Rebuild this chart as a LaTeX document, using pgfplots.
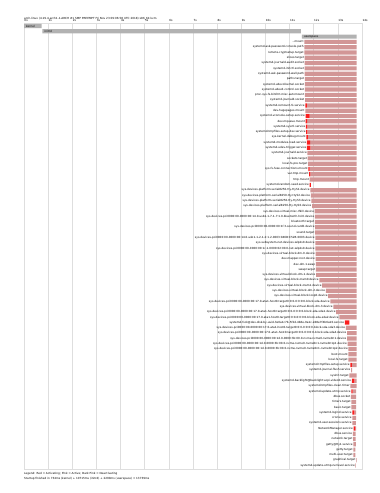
\documentclass[border=0pt]{standalone}
\usepackage{fontspec}
\setmainfont{DejaVu Sans}
\usepackage{pgfplots}
\usepackage{pgfplotstable}
\pgfplotsset{compat=1.18}
\newcommand\lf{\fontsize{2.8}{3.2}\selectfont}
\definecolor{actv}{RGB}{250,30,30}
\definecolor{pinkc}{RGB}{210,150,150}
\definecolor{grayc}{RGB}{178,178,178}
\definecolor{gridc}{RGB}{222,222,222}

\pgfplotstableread{
row start gray red pink label
-3 0 0.73 0 0 kernel
-2 0.76 10.71 0 0 initrd
-1 11.51 2.27 0 0 userspace
0 11.61 0 0 2.17 -.mount
1 11.61 0 0 2.17 systemd-ask-password-console.path
2 11.61 0 0 2.17 remote-cryptsetup.target
3 11.62 0 0 2.16 slices.target
4 11.62 0 0 2.16 systemd-journald-audit.socket
5 11.62 0 0 2.16 systemd-initctl.socket
6 11.62 0 0 2.16 systemd-ask-password-wall.path
7 11.63 0 0 2.15 paths.target
8 11.63 0 0 2.15 systemd-udevd-kernel.socket
9 11.63 0 0 2.15 systemd-udevd-control.socket
10 11.63 0 0 2.15 proc-sys-fs-binfmt-misc.automount
11 11.64 0 0 2.14 systemd-journald.socket
12 11.65 0 0.07 2.06 systemd-remount-fs.service
13 11.65 0 0 2.13 dev-hugepages.mount
14 11.66 0 0.17 1.95 systemd-vconsole-setup.service
15 11.67 0 0.06 2.05 dev-mqueue.mount
16 11.68 0 0.06 2.04 systemd-sysctl.service
17 11.69 0 0.05 2.04 systemd-tmpfiles-setup-dev.service
18 11.70 0 0.06 2.02 sys-kernel-debug.mount
19 11.72 0 0.13 1.93 systemd-modules-load.service
20 11.72 0 0.14 1.92 systemd-udev-trigger.service
21 11.74 0 0 2.04 systemd-journald.service
22 11.75 0 0 2.03 sockets.target
23 11.77 0 0 2.01 local-fs-pre.target
24 11.78 0 0.05 1.95 sys-fs-fuse-connections.mount
25 11.81 0 0.05 1.92 var-tmp.mount
26 11.83 0 0 1.95 tmp.mount
27 11.83 0 0.05 0 systemd-random-seed.service
28 11.86 0 0 1.92 sys-devices-platform-serial8250-tty-ttyS1.device
29 11.88 0 0 1.90 sys-devices-platform-serial8250-tty-ttyS2.device
30 11.90 0 0 1.88 sys-devices-platform-serial8250-tty-ttyS3.device
31 11.93 0 0 1.85 sys-devices-platform-serial8250-tty-ttyS0.device
32 12.04 0 0 1.74 sys-devices-virtual-misc-rfkill.device
33 12.05 0 0 1.73 sys-devices-pci0000:00-0000:00:14.0-usb1-1-7-1-7:1.0-bluetooth-hci0.device
34 12.05 0 0 1.73 bluetooth.target
35 12.06 0 0 1.72 sys-devices-pci0000:00-0000:00:1f.3-sound-card0.device
36 12.06 0 0 1.72 sound.target
37 12.07 0 0 1.71 sys-devices-pci0000:00-0000:00:14.0-usb1-1-2-1-2:1.2-0003:046D:C52B.0003.device
38 12.07 0 0 1.71 sys-subsystem-net-devices-wlp2s0.device
39 12.07 0 0 1.71 sys-devices-pci0000:00-0000:00:1c.1-0000:02:00.0-net-wlp2s0.device
40 12.08 0 0 1.70 sys-devices-virtual-block-dm-0.device
41 12.08 0 0 1.70 dev-mapper-root.device
42 12.09 0 0 1.69 dev-dm-1.swap
43 12.09 0 0 1.69 swap.target
44 12.10 0 0 1.68 sys-devices-virtual-block-dm-1.device
45 12.23 0 0 1.55 sys-devices-virtual-block-zram0.device
46 12.35 0 0 1.43 sys-devices-virtual-block-zram1.device
47 12.50 0 0 1.28 sys-devices-virtual-block-dm-2.device
48 12.60 0 0 1.18 sys-devices-virtual-block-loop0.device
49 12.69 0 0 1.09 sys-devices-pci0000:00-0000:00:17.0-ata1-host0-target0:0:0-0:0:0:0-block-sda.device
50 12.81 0 0 0.97 sys-devices-virtual-block-dm-3.device
51 12.93 0 0 0.85 sys-devices-pci0000:00-0000:00:17.0-ata1-host0-target0:0:0-0:0:0:0-block-sda-sda1.device
52 13.06 0 0 0.72 sys-devices-pci0000:00-0000:00:17.0-ata1-host0-target0:0:0-0:0:0:0-block-sda-sda2.device
53 13.29 0 0.19 0 systemd-fsck@dev-disk-by-uuid-3e0a1c7b-5f2d-4b6e-9a1c-2d8e7f4b6a10.service
54 13.33 0 0 0.45 sys-devices-pci0000:00-0000:00:17.0-ata1-host0-target0:0:0-0:0:0:0-block-sda-sda3.device
55 13.38 0 0 0.40 sys-devices-pci0000:00-0000:00:17.0-ata1-host0-target0:0:0-0:0:0:0-block-sda-sda4.device
56 13.38 0 0 0.40 sys-devices-pci0000:00-0000:00:1d.0-0000:3b:00.0-nvme-nvme0-nvme0n1.device
57 13.40 0 0 0.38 sys-devices-pci0000:00-0000:00:1d.0-0000:3b:00.0-nvme-nvme0-nvme0n1-nvme0n1p1.device
58 13.44 0 0 0.34 sys-devices-pci0000:00-0000:00:1d.0-0000:3b:00.0-nvme-nvme0-nvme0n1-nvme0n1p2.device
59 13.44 0 0 0.34 boot.mount
60 13.44 0 0 0.34 local-fs.target
61 13.52 0 0.06 0.20 systemd-tmpfiles-setup.service
62 13.55 0 0 0.04 systemd-journal-flush.service
63 13.48 0 0 0.30 sysinit.target
64 13.58 0 0.10 0.10 systemd-backlight@backlight:acpi-video0.service
65 13.52 0 0 0.26 systemd-tmpfiles-clean.timer
66 13.56 0 0.05 0.15 systemd-update-utmp.service
67 13.54 0 0 0.22 dbus.socket
68 13.56 0 0 0.20 timers.target
69 13.56 0 0 0.20 basic.target
70 13.60 0 0.08 0.08 systemd-logind.service
71 13.60 0 0 0.16 cronie.service
72 13.60 0 0 0.15 systemd-user-sessions.service
73 13.65 0 0.08 0.03 NetworkManager.service
74 13.62 0 0 0.12 dbus.service
75 13.63 0 0 0.11 network.target
76 13.64 0 0 0.11 getty@tty1.service
77 13.64 0 0 0.09 getty.target
78 13.64 0 0 0.09 multi-user.target
79 13.76 0 0 0.02 graphical.target
80 13.73 0 0 0.02 systemd-update-utmp-runlevel.service
}\units

\pgfplotsset{base/.style={at={(24bp,24bp)}, anchor=south west, scale only axis,
  width=338bp, height=446bp, xmin=0, xmax=14, ymin=-3.57, ymax=80.66, y dir=reverse}}

\begin{document}
\begin{tikzpicture}
\path[use as bounding box] (0,0) rectangle (380bp,493bp);
\begin{axis}[base, xbar stacked, bar width=4.2bp,
  xtick={0,1,...,14},
  xticklabels={0s,1s,2s,3s,4s,5s,6s,7s,8s,9s,10s,11s,12s,13s,14s},
  xticklabel pos=right, xtick pos=right, ytick=\empty,
  xmajorgrids, grid style={gridc, line width=0.6bp},
  axis line style={gridc, line width=0.6bp},
  major tick length=0pt,
  xticklabel style={font=\lf, anchor=base west, inner sep=0.3bp, yshift=1.2bp},
  every axis plot/.append style={draw=none}]
\addplot[fill=none] table[x=start,y=row]{\units};
\addplot[fill=grayc] table[x=gray,y=row]{\units};
\addplot[fill=actv] table[x=red,y=row]{\units};
\addplot[fill=pinkc] table[x=pink,y=row]{\units};
\end{axis}
\begin{axis}[base, hide axis, clip=false]
\addplot[only marks, mark=*, mark size=0pt, mark options={draw=none,fill=none},
  nodes near coords, point meta=explicit symbolic,
  nodes near coords style={anchor=east, font=\lf, inner sep=0.5bp, text=black},
  skip coords between index={0}{3}]
  table[x=start,y=row,meta=label]{\units};
\addplot[only marks, mark=*, mark size=0pt, mark options={draw=none,fill=none},
  nodes near coords, point meta=explicit symbolic,
  nodes near coords style={anchor=west, font=\lf, inner sep=0.5bp, xshift=1.5bp, text=black},
  skip coords between index={3}{84}]
  table[x=start,y=row,meta=label]{\units};
\node[anchor=base west, font=\lf, inner sep=0pt] at (axis description cs:0,1) [yshift=3.8bp]
  {arch-linux (4.19.4-arch1-1-ARCH \#1 SMP PREEMPT Fri Nov 23 09:06:58 UTC 2018) x86\_64 kvm};
\node[anchor=base west, font=\lf, inner sep=0pt] at (axis description cs:0,0) [yshift=-5bp]
  {Legend: Red = Activating; Pink = Active; Dark Pink = Deactivating};
\node[anchor=base west, font=\lf, inner sep=0pt] at (axis description cs:0,0) [yshift=-10bp]
  {Startup finished in 734ms (kernel) + 10715ms (initrd) + 2290ms (userspace) = 13739ms};
\end{axis}
\end{tikzpicture}
\end{document}
